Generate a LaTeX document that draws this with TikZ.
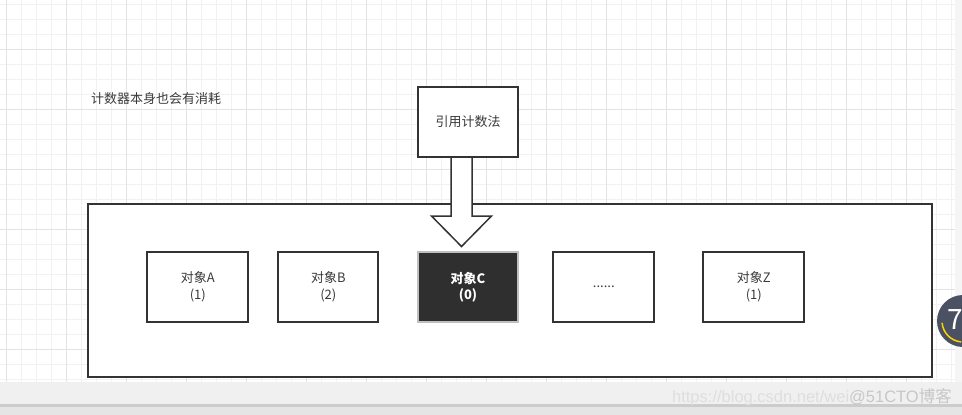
\documentclass[tikz,border=0pt]{standalone}
\usepackage{fontspec}
\setmainfont{Noto Sans CJK SC}
\newfontfamily\wmfont{Liberation Sans}
\usetikzlibrary{calc}
\definecolor{ink}{HTML}{333333}
\definecolor{txt}{HTML}{3A3A3A}
\definecolor{gridminor}{HTML}{F1F1F1}
\definecolor{gridmajor}{HTML}{E3E3E3}
\definecolor{darkfill}{HTML}{2F2F2F}
\definecolor{barcol}{HTML}{F0F0F0}
\definecolor{slate}{HTML}{4A5163}
\begin{document}
\begin{tikzpicture}[x=1pt,y=-1pt,
  every node/.style={font=\fontsize{13}{16.5}\selectfont, text=txt, align=center},
  objbox/.style={draw=ink, line width=2pt, fill=white, minimum width=100pt, minimum height=70pt, inner sep=0pt},
  darkbox/.style={draw=black!25, line width=2pt, fill=darkfill, minimum width=100pt, minimum height=70pt, inner sep=0pt, text=white, font=\fontsize{13}{16.5}\selectfont\bfseries},
  fatarrow/.style={draw=ink, line width=1.5pt, fill=white, line join=miter}
]
\useasboundingbox (0,0) rectangle (962,415);
% background and grid
\fill[white] (0,0) rectangle (962,382);
\foreach \i in {0,...,64} {
  \draw[gridminor, line width=0.8pt] ({6.7+15*\i},0) -- ({6.7+15*\i},382);
}
\foreach \j in {0,...,25} {
  \draw[gridminor, line width=0.8pt] (0,{4.3+15*\j}) -- (962,{4.3+15*\j});
}
\foreach \i in {0,...,16} {
  \draw[gridmajor, line width=0.9pt] ({6.7+60*\i},0) -- ({6.7+60*\i},382);
}
\foreach \j in {0,...,6} {
  \draw[gridmajor, line width=0.9pt] (0,{49.3+60*\j}) -- (962,{49.3+60*\j});
}
\fill[black!4] (955,0) rectangle (962,382);
% bottom bars
\fill[barcol] (0,382) rectangle (962,404);
\fill[black!20] (0,404) rectangle (962,406.5);
\fill[black!10] (0,406.5) rectangle (962,415);

% note
\node[anchor=west, inner sep=0pt] (note) at (91,98.5) {计数器本身也会有消耗};

% container
\node[draw=ink, line width=2pt, fill=white, minimum width=844pt, minimum height=172.5pt, inner sep=0pt] (pool) at (510,290.25) {};

% top node
\node[objbox] (ref) at (468,122) {引用计数法};

% objects
\node[objbox, minimum width=101pt] (objA) at (197.8,287) {对象A\\(1)};
\node[objbox] (objB) at (328.3,287) {对象B\\(2)};
\node[darkbox] (objC) at (468,287) {对象C\\(0)};
\node[objbox, minimum width=101pt] (objD) at (603.8,287) {......};
\node[objbox, minimum width=101pt] (objZ) at (753.8,287) {对象Z\\(1)};

% big hollow arrow from ref to objC
\coordinate (aTop) at ($(ref.south)+(-6.5,0)$);
\coordinate (aTip) at ($(objC.north)+(-6.5,-4.5)$);
\draw[fatarrow]
  ($(aTop)+(-10.5,0)$) -- ($(aTip)+(-10.5,-30.5)$) -- ($(aTip)+(-30,-30.5)$) -- (aTip)
  -- ($(aTip)+(30,-30.5)$) -- ($(aTip)+(10.5,-30.5)$) -- ($(aTop)+(10.5,0)$);

% overlay badge
\fill[slate] (963,321) circle (26);
\draw[yellow!70!orange, line width=1.5pt] ([shift={(175:21)}]963,321) arc[start angle=175, end angle=95, radius=21];
\node[text=white, font=\fontsize{28}{28}\selectfont, anchor=west, inner sep=0pt] (badge) at (947,320) {7};

% watermark
\node[anchor=east, inner sep=0pt, text=black!13, font=\wmfont\fontsize{16.5}{16.5}\selectfont] (wm) at (952,397)
  {https://blog.csdn.net/wei\textcolor{black!22}{@51CTO{\fontspec{Noto Sans CJK SC}博客}}};
\end{tikzpicture}
\end{document}
